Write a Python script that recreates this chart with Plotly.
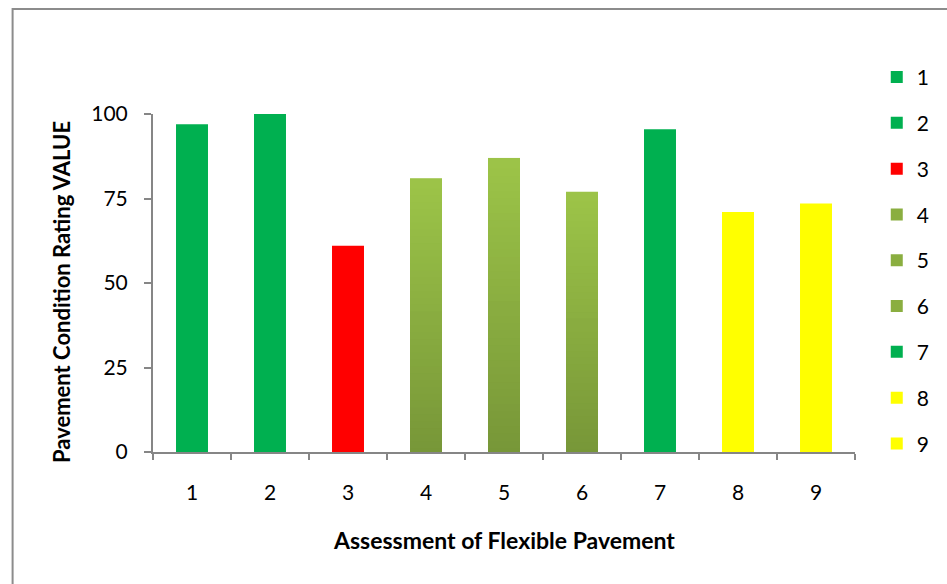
import plotly.graph_objects as go

# Pavement condition ratings per assessment
categories = ["1", "2", "3", "4", "5", "6", "7", "8", "9"]
values = [97, 100, 61, 81, 87, 77, 95.5, 71, 73.5]
bar_styles = ["green", "green", "red", "olive", "olive", "olive", "green", "yellow", "yellow"]
y_ticks = [0, 25, 50, 75, 100]

SOLID = {"green": "#00B050", "red": "#FF0000", "yellow": "#FFFF00"}
OLIVE_TOP = (156, 196, 72)
OLIVE_BOTTOM = (119, 150, 56)
N_SEG = 40
FONT = "Lato"
AXIS_GREY = "#868686"


def mix(c0, c1, t):
    return "rgb({},{},{})".format(*[round(a + (b - a) * t) for a, b in zip(c0, c1)])


fig = go.Figure()
for cat, val, style in zip(categories, values, bar_styles):
    if style == "olive":
        # vertical gradient: thin slices from the axis up to the value,
        # each slightly overlapping its neighbours so no seams show
        step = val / N_SEG
        ov = step * 0.5
        order = list(range(N_SEG // 2, N_SEG)) + list(range(N_SEG // 2))
        lo = [max(0.0, k * step - ov) for k in order]
        hi = [min(val, (k + 1) * step + ov) for k in order]
        cols = [mix(OLIVE_BOTTOM, OLIVE_TOP, (k + 0.5) / N_SEG) for k in order]
        fig.add_trace(go.Bar(
            x=[cat] * N_SEG, y=[h - l for l, h in zip(lo, hi)], base=lo,
            marker=dict(color=cols, line=dict(width=0)),
            width=0.41, name=cat, legendgroup=cat, hoverinfo="skip",
        ))
    else:
        fig.add_trace(go.Bar(
            x=[cat], y=[val], base=[0],
            marker=dict(color=SOLID[style], line=dict(width=0)),
            width=0.41, name=cat, legendgroup=cat,
        ))

fig.update_layout(
    width=947, height=584,
    margin=dict(l=153, r=84, t=114, b=132),
    paper_bgcolor="white", plot_bgcolor="white",
    barmode="overlay",
    font=dict(family=FONT, size=21, color="#000000"),
    showlegend=True,
    legend=dict(
        x=1.031, xanchor="left", y=1.169, yanchor="top",
        font=dict(family=FONT, size=21),
        tracegroupgap=15.5, bgcolor="rgba(0,0,0,0)", maxheight=570,
    ),
    xaxis=dict(
        type="category", categoryorder="array", categoryarray=categories,
        range=[-0.5, 8.5], showgrid=False, zeroline=False,
        showline=True, linecolor=AXIS_GREY, linewidth=2,
        ticks="outside", tickson="boundaries", ticklen=6, tickwidth=1.5,
        tickcolor=AXIS_GREY, ticklabelstandoff=21,
        tickfont=dict(family=FONT, size=21),
    ),
    yaxis=dict(
        range=[0, 100], tickvals=y_ticks, showgrid=False, zeroline=False,
        showline=True, linecolor=AXIS_GREY, linewidth=2,
        ticks="outside", ticklen=7, tickwidth=1.5, tickcolor=AXIS_GREY,
        ticklabelstandoff=12, tickfont=dict(family=FONT, size=21),
    ),
    annotations=[
        dict(text="<b>Assessment of Flexible Pavement</b>", xref="paper", yref="paper",
             x=0.5, y=(452 - 540) / 338, xanchor="center", yanchor="middle",
             showarrow=False, font=dict(family=FONT, size=23)),
        dict(text="<b>Pavement Condition Rating VALUE</b>", xref="paper", yref="paper",
             x=(60 - 153) / 710, y=(452 - 292) / 338, xanchor="center", yanchor="middle",
             textangle=-90, showarrow=False, font=dict(family=FONT, size=22)),
    ],
    shapes=[
        # chart frame, running past the right and bottom edges of the page
        dict(type="rect", xref="paper", yref="paper",
             x0=(11 - 153) / 710, x1=(960 - 153) / 710,
             y0=(452 - 600) / 338, y1=(452 - 9) / 338,
             line=dict(color="#8C8C8C", width=2), fillcolor="rgba(0,0,0,0)", layer="below"),
    ],
)

fig.write_html("out.html")
